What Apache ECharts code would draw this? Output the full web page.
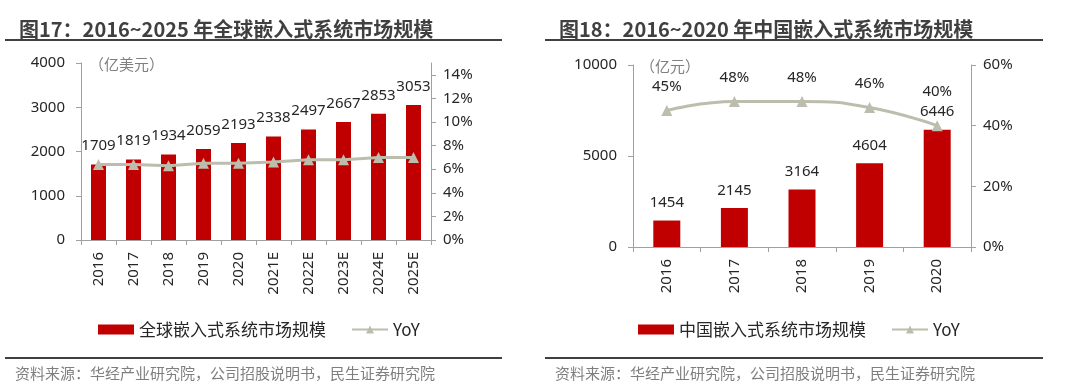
<!DOCTYPE html>
<html><head><meta charset="utf-8">
<script src="https://cdn.jsdelivr.net/npm/echarts@6/dist/echarts.min.js"></script>
<style>html,body{margin:0;padding:0;background:#fff}#c{width:1080px;height:390px}</style>
</head><body><div id="c"></div>
<script>
// ---- data ----
const globalYears = ['2016','2017','2018','2019','2020','2021E','2022E','2023E','2024E','2025E'];
const globalMarket = [1709,1819,1934,2059,2193,2338,2497,2667,2853,3053];
const globalYoY = [6.4,6.4,6.3,6.5,6.5,6.6,6.8,6.8,7.0,7.0];
const chinaYears = ['2016','2017','2018','2019','2020'];
const chinaMarket = [1454,2145,3164,4604,6446];
const chinaYoY = [45,48,48,46,40];
const globalValueAxis = {min:0, max:4000, interval:1000};
const globalPctAxis = {min:0, max:15, interval:2};
const chinaValueAxis = {min:0, max:10000, interval:5000};
const chinaPctAxis = {min:0, max:60, interval:20};
const titleLeft = '图17：2016~2025 年全球嵌入式系统市场规模';
const titleRight = '图18：2016~2020 年中国嵌入式系统市场规模';
const unitLeft = '（亿美元）';
const unitRight = '（亿元）';
const legendLeft = ['全球嵌入式系统市场规模','YoY'];
const legendRight = ['中国嵌入式系统市场规模','YoY'];
const sourceText = '资料来源：华经产业研究院，公司招股说明书，民生证券研究院';

// ---- styles ----
const RED = '#C00000', GRAY = '#BDBDAD', AXIS = '#A0A0A0', TXT = '#262626';
const FONT = '"Noto Sans CJK SC","Noto Sans",sans-serif';
const NUMFONT = '"Noto Sans","Noto Sans CJK SC",sans-serif';

function catAxis(grid, data){
  return {type:'category', gridIndex:grid, data:data,
    axisLine:{lineStyle:{color:AXIS,width:1}}, axisTick:{show:true,lineStyle:{color:AXIS},length:5},
    axisLabel:{rotate:90, fontSize:15, color:TXT, fontFamily:NUMFONT, margin:12}};
}
function valAxis(grid, r, pos, suffix){
  return {type:'value', gridIndex:grid, position:pos, min:r.min, max:r.max, interval:r.interval,
    splitLine:{show:false}, axisLine:{show:true,lineStyle:{color:AXIS,width:1}},
    axisTick:{show:true,lineStyle:{color:AXIS},length:5},
    axisLabel:{fontSize:15, color:TXT, fontFamily:NUMFONT, margin:pos==='left'?16:12,
      formatter:(v)=> String(v) + suffix, showMaxLabel: r.max % r.interval === 0}};
}

const chart = echarts.init(document.getElementById('c'), null, {renderer:'canvas'});
chart.setOption({
  backgroundColor:'#fff',
  animation:false,
  title:[
    {text:titleLeft, left:14, top:14, textStyle:{fontSize:20, fontWeight:'bold', color:'#404040', fontFamily:FONT}},
    {text:titleRight, left:554, top:14, textStyle:{fontSize:20, fontWeight:'bold', color:'#404040', fontFamily:FONT}}
  ],
  grid:[
    {left:81, top:63, width:350, height:177, outerBoundsMode:'none'},
    {left:633, top:65, width:338, height:182, outerBoundsMode:'none'}
  ],
  xAxis:[catAxis(0, globalYears), catAxis(1, chinaYears)],
  yAxis:[
    valAxis(0, globalValueAxis, 'left', ''),
    valAxis(0, globalPctAxis, 'right', '%'),
    valAxis(1, chinaValueAxis, 'left', ''),
    valAxis(1, chinaPctAxis, 'right', '%')
  ],
  legend:[
    {data:[{name:legendLeft[0], icon:'rect'}, legendLeft[1]], left:93, top:316, itemWidth:36, itemHeight:10, itemGap:25,
     textStyle:{fontSize:17, color:TXT, fontFamily:FONT}},
    {data:[{name:legendRight[0], icon:'rect'}, legendRight[1]], left:633, top:316, itemWidth:36, itemHeight:10, itemGap:25,
     textStyle:{fontSize:17, color:TXT, fontFamily:FONT}}
  ],
  series:[
    {name:legendLeft[0], type:'bar', xAxisIndex:0, yAxisIndex:0, data:globalMarket, barWidth:15,
     itemStyle:{color:RED},
     label:{show:true, position:'top', distance:11, fontSize:15, color:TXT, fontFamily:NUMFONT}},
    {name:'YoY', type:'line', xAxisIndex:0, yAxisIndex:1, data:globalYoY, z:5,
     symbol:'triangle', symbolSize:11, lineStyle:{color:GRAY, width:3}, itemStyle:{color:GRAY}},
    {name:legendRight[0], type:'bar', xAxisIndex:1, yAxisIndex:2, data:chinaMarket, barWidth:27,
     itemStyle:{color:RED},
     label:{show:true, position:'top', distance:10, fontSize:15, color:TXT, fontFamily:NUMFONT}},
    {name:'YoY', type:'line', xAxisIndex:1, yAxisIndex:3, smooth:true, z:5,
     data:chinaYoY.map((v,i)=> i===chinaYoY.length-1 ? {value:v, label:{distance:21}} : v),
     symbol:'triangle', symbolSize:11, lineStyle:{color:GRAY, width:3}, itemStyle:{color:GRAY},
     label:{show:true, position:'top', distance:11, fontSize:15, color:TXT, fontFamily:NUMFONT, formatter:'{c}%'}}
  ],
  graphic:[
    {type:'line', shape:{x1:5,y1:40,x2:502,y2:40}, style:{stroke:'#404040', lineWidth:2}},
    {type:'line', shape:{x1:545,y1:40,x2:1043,y2:40}, style:{stroke:'#404040', lineWidth:2}},
    {type:'line', shape:{x1:5,y1:358,x2:502,y2:358}, style:{stroke:'#404040', lineWidth:2}},
    {type:'line', shape:{x1:545,y1:358,x2:1043,y2:358}, style:{stroke:'#404040', lineWidth:2}},
    {type:'text', x:89, y:64, style:{text:unitLeft, fill:'#7F7F7F', font:'15px '+FONT, textVerticalAlign:'middle'}},
    {type:'text', x:640, y:66, style:{text:unitRight, fill:'#7F7F7F', font:'15px '+FONT, textVerticalAlign:'middle'}},
    {type:'text', x:15, y:373, style:{text:sourceText, fill:'#7F7F7F', font:'15px '+FONT, textVerticalAlign:'middle'}},
    {type:'text', x:555, y:373, style:{text:sourceText, fill:'#7F7F7F', font:'15px '+FONT, textVerticalAlign:'middle'}}
  ]
});
</script></body></html>
